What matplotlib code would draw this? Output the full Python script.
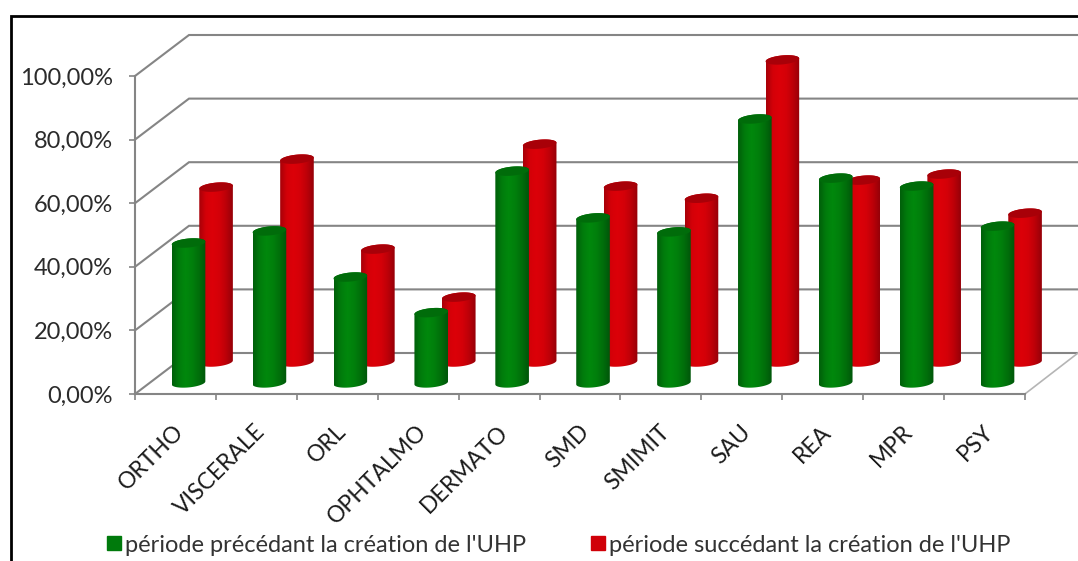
import numpy as np
import matplotlib
matplotlib.use('Agg')
import matplotlib.pyplot as plt
from matplotlib.colors import LinearSegmentedColormap
from matplotlib.lines import Line2D
from matplotlib.patches import Polygon

categories = ['ORTHO', 'VISCERALE', 'ORL', 'OPHTALMO', 'DERMATO', 'SMD',
              'SMIMIT', 'SAU', 'REA', 'MPR', 'PSY']
avant = [44.0, 47.8, 33.3, 22.1, 66.6, 51.9, 47.5, 83.0, 64.4, 61.9, 49.3]
apres = [55.0, 63.8, 35.5, 20.4, 68.5, 55.3, 51.5, 95.0, 57.2, 59.1, 46.8]
y_ticks = [0, 20, 40, 60, 80, 100]
y_labels = ['0,00%', '20,00%', '40,00%', '60,00%', '80,00%', '100,00%']
legend_labels = ["période précédant la création de l'UHP",
                 "période succédant la création de l'UHP"]

W, H = 1078, 561
PX_X = 1 / 80.9   # one pixel in category units
PX_Y = 1 / 3.18   # one pixel in percent
X0, Y0 = 135, 394  # pixel position of the axes origin
DEPTH_X, DEPTH_Y = 54 * PX_X, 41 * PX_Y
GRID = '#858585'
FONT = 'Lato'

plt.rcParams['font.family'] = FONT
fig = plt.figure(figsize=(W / 100, H / 100), dpi=100)
ax = fig.add_axes([0, 0, 1, 1])
ax.patch.set_alpha(0)


def cylinder(cx, base, height, cmap, top_color, z):
    a, b, tilt = 16.8 * PX_X, 4.5 * PX_Y, 1.5 * PX_Y
    top = base + height
    t = np.linspace(0, np.pi, 40)
    # lower edge of the base, left to right, then upper edge of the top back
    xs = np.r_[cx - a * np.cos(t), cx + a * np.cos(t)]
    ys = np.r_[base - b * np.sin(t) - tilt * np.cos(t),
               top + b * np.sin(t) + tilt * np.cos(t)]
    body = Polygon(np.c_[xs, ys], closed=True, fc='none', ec='none', zorder=z)
    ax.add_patch(body)
    grad = np.linspace(0, 1, 64).reshape(1, -1)
    im = ax.imshow(grad, cmap=cmap, aspect='auto', zorder=z, interpolation='bilinear',
                   extent=(cx - a, cx + a, base - b - tilt, top + b + tilt))
    im.set_clip_path(body)
    tt = np.linspace(0, 2 * np.pi, 80)
    ax.add_patch(Polygon(np.c_[cx + a * np.cos(tt),
                               top + b * np.sin(tt) + tilt * np.cos(tt)],
                         closed=True, fc=top_color, ec='none', zorder=z + 0.1))


green = LinearSegmentedColormap.from_list('g', ['#005f0a', '#007c0c', '#00880c', '#007f0c', '#006e0a', '#00560a'])
red = LinearSegmentedColormap.from_list('r', ['#a80008', '#d40008', '#dc0008', '#d40008', '#bc0008', '#960008'])

# back wall and side wall gridlines
x_right = (W - X0) * PX_X
for v in y_ticks:
    ax.plot([0, DEPTH_X, x_right], [v, v + DEPTH_Y, v + DEPTH_Y], color=GRID, lw=1.5, zorder=1,
            solid_joinstyle='miter')
ax.plot([len(categories), x_right], [0, DEPTH_Y], color='#b5b5b5', lw=1.2, zorder=1)

for i, v in enumerate(apres):
    cylinder(i + 0.5 + 0.78 * DEPTH_X - 1.5 * PX_X, 0.78 * DEPTH_Y, v, red, '#a80008', 3 + i * 0.01)
for i, v in enumerate(avant):
    cylinder(i + 0.5 + 0.27 * DEPTH_X - 1.5 * PX_X, 0.27 * DEPTH_Y, v, green, '#006c0a', 4 + i * 0.01)

for s in ['top', 'right']:
    ax.spines[s].set_visible(False)
ax.spines['left'].set_position(('data', 0))
ax.spines['left'].set_bounds(0, 100)
ax.spines['bottom'].set_position(('data', 0))
ax.spines['bottom'].set_bounds(0, len(categories))
for s in ['left', 'bottom']:
    ax.spines[s].set_color(GRID)
    ax.spines[s].set_linewidth(1.5)
ax.set_yticks(y_ticks, y_labels)
ax.set_xticks(range(len(categories) + 1), [''] * (len(categories) + 1))
ax.tick_params(axis='y', length=4, width=1.2, color=GRID, pad=12, labelsize=17, labelcolor='#2b2b2b')
ax.tick_params(axis='x', length=4, width=1.2, color=GRID)

for i, name in enumerate(categories):
    ax.text(i + 0.5 - 2 * PX_X, -27 * PX_Y, name, rotation=45, ha='right', va='top',
            rotation_mode='anchor', fontsize=16.5, color='#1a1a1a')

handles = [Line2D([], [], ls='none', marker='s', ms=10, color='#007a0c'),
           Line2D([], [], ls='none', marker='s', ms=10, color='#d00008')]
ax.legend(handles, legend_labels, ncol=2, frameon=False, loc='center',
          bbox_to_anchor=(557 / W, 1 - 545 / H), fontsize=17, labelcolor='#333333',
          handletextpad=0.0, columnspacing=2.6, borderpad=0, handlelength=0.9)

ax.set_xlim(-X0 * PX_X, (W - X0) * PX_X)
ax.set_ylim(-(H - Y0) * PX_Y, Y0 * PX_Y)

# black frame of the scanned page, open on the right and at the bottom
fig.add_artist(Line2D([11 / W, 11 / W, 1], [0, 1 - 16 / H, 1 - 16 / H], color='black', lw=2,
                      solid_joinstyle='miter'))

fig.savefig('out.png', dpi=100)
